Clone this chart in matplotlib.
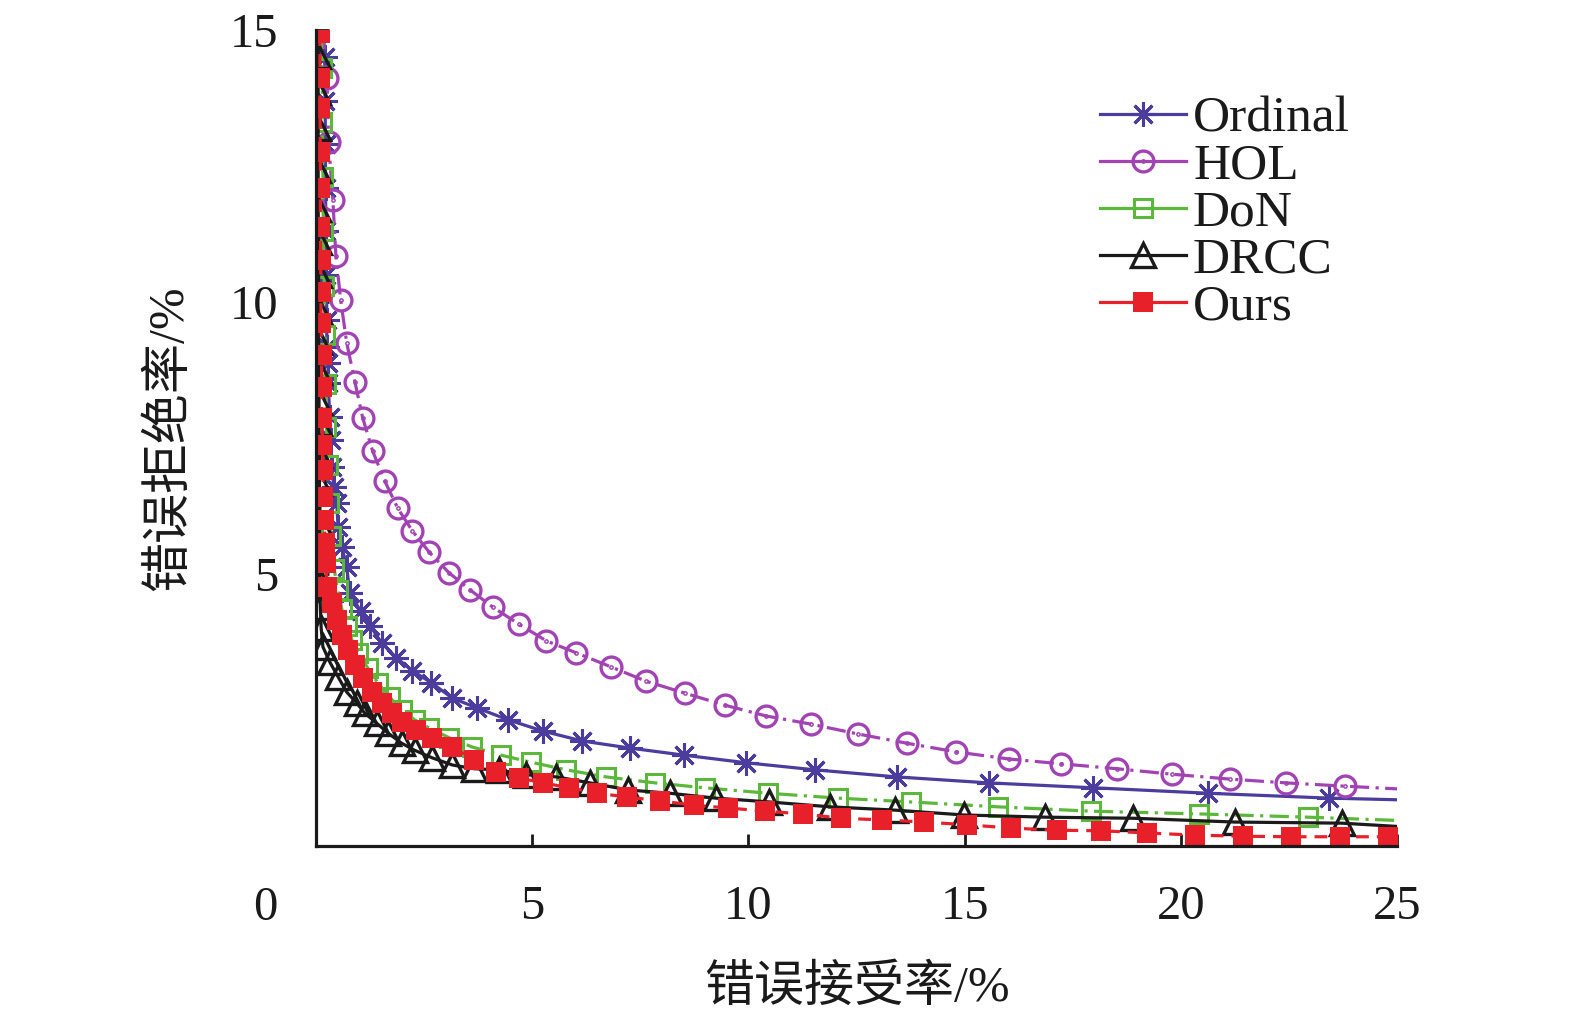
import matplotlib
matplotlib.use("Agg")
import matplotlib.pyplot as plt
from matplotlib.lines import Line2D
from matplotlib.path import Path

# ---------------- data ----------------
series_names = ["Ordinal", "HOL", "DoN", "DRCC", "Ours"]

ord_x = [0.17, 0.20, 0.21, 0.22, 0.22, 0.23, 0.24, 0.25, 0.25, 0.28, 0.28, 0.32, 0.34, 0.37, 0.41,
         0.48, 0.51, 0.60, 0.71, 0.78, 1.03, 1.26, 1.52, 1.86, 2.23, 2.67, 3.15, 3.72, 4.44, 5.26,
         6.16, 7.26, 8.51, 9.95, 11.54, 13.43, 15.56, 17.98, 20.62, 23.43, 25.0]
ord_y = [15.0, 14.5, 13.7, 12.9, 12.1, 11.3, 10.5, 9.67, 9.17, 8.88, 8.51, 7.89, 7.46, 6.97, 6.60,
         6.31, 5.86, 5.50, 5.13, 4.65, 4.32, 4.04, 3.73, 3.46, 3.22, 3.00, 2.72, 2.54, 2.32, 2.11,
         1.93, 1.80, 1.67, 1.53, 1.40, 1.27, 1.16, 1.07, 0.97, 0.88, 0.85]

hol_x = [0.15, 0.26, 0.29, 0.39, 0.46, 0.57, 0.71, 0.90, 1.08, 1.31, 1.59, 1.89, 2.23, 2.62, 3.08,
         3.56, 4.09, 4.69, 5.33, 6.02, 6.83, 7.63, 8.53, 9.45, 10.41, 11.45, 12.53, 13.66, 14.80,
         16.02, 17.24, 18.53, 19.79, 21.13, 22.44, 23.79, 25.0]
hol_y = [15.0, 14.12, 12.94, 11.88, 10.85, 10.04, 9.25, 8.53, 7.87, 7.26, 6.71, 6.21, 5.79, 5.40,
         5.02, 4.71, 4.39, 4.08, 3.77, 3.55, 3.29, 3.03, 2.81, 2.59, 2.39, 2.24, 2.06, 1.89, 1.73,
         1.60, 1.51, 1.42, 1.32, 1.23, 1.16, 1.10, 1.05]

don_x = [0.12, 0.14, 0.15, 0.16, 0.17, 0.19, 0.21, 0.22, 0.24, 0.27, 0.30, 0.35, 0.42, 0.50, 0.60,
         0.72, 0.83, 0.97, 1.20, 1.43, 1.70, 1.98, 2.28, 2.62, 3.08, 3.61, 4.28, 4.97, 5.79, 6.71,
         7.84, 8.99, 10.46, 12.07, 13.75, 15.77, 17.93, 20.41, 22.94, 25.0]
don_y = [15.0, 14.3, 13.3, 12.3, 11.3, 10.3, 9.4, 8.5, 7.7, 7.0, 6.3, 5.7, 5.1, 4.7, 4.35,
         4.05, 3.79, 3.55, 3.27, 3.00, 2.74, 2.50, 2.32, 2.17, 1.99, 1.82, 1.67, 1.54, 1.40, 1.27,
         1.16, 1.07, 0.97, 0.88, 0.81, 0.72, 0.64, 0.59, 0.53, 0.47]

drcc_x = [0.04, 0.05, 0.05, 0.05, 0.05, 0.05, 0.06, 0.06, 0.06, 0.06, 0.07, 0.07, 0.07, 0.08, 0.08,
          0.08, 0.09, 0.09, 0.10, 0.12, 0.16, 0.32, 0.51, 0.71, 0.94, 1.13, 1.40, 1.66, 1.98, 2.28,
          2.69, 3.15, 3.66, 4.23, 4.85, 5.56, 6.34, 7.22, 8.18, 9.24, 10.48, 11.89, 13.38, 14.99,
          16.87, 18.90, 21.26, 23.72, 25.0]
drcc_y = [15.0, 14.52, 13.86, 13.20, 12.43, 11.71, 11.10, 10.50, 9.83, 9.26, 8.71, 8.16, 7.78, 7.19,
          6.67, 5.94, 5.40, 4.85, 4.40, 4.00, 3.66, 3.38, 3.11, 2.83, 2.63, 2.44, 2.26, 2.08, 1.89,
          1.76, 1.62, 1.49, 1.42, 1.40, 1.31, 1.27, 1.16, 1.03, 0.97, 0.88, 0.81, 0.72, 0.66, 0.57,
          0.53, 0.51, 0.44, 0.42, 0.36]

ours_x = [0.09, 0.09, 0.09, 0.10, 0.10, 0.10, 0.11, 0.11, 0.12, 0.13, 0.13, 0.14, 0.15, 0.16, 0.17,
          0.19, 0.21, 0.23, 0.26, 0.37, 0.48, 0.60, 0.74, 0.90, 1.08, 1.29, 1.52, 1.75, 2.00, 2.32,
          2.69, 3.15, 3.66, 4.16, 4.69, 5.26, 5.86, 6.51, 7.20, 7.95, 8.74, 9.52, 10.39, 11.26,
          12.14, 13.10, 14.07, 15.06, 16.07, 17.13, 18.16, 19.22, 20.32, 21.43, 22.55, 23.68, 24.80, 25.0]
ours_y = [14.94, 14.12, 13.57, 12.76, 12.10, 11.38, 10.77, 10.18, 9.61, 9.03, 8.44, 7.87, 7.37, 6.91,
          6.42, 5.99, 5.57, 5.20, 4.76, 4.47, 4.15, 3.88, 3.60, 3.33, 3.09, 2.83, 2.63, 2.44, 2.28,
          2.13, 1.99, 1.82, 1.58, 1.36, 1.25, 1.16, 1.07, 0.97, 0.90, 0.83, 0.75, 0.70, 0.64, 0.59,
          0.51, 0.48, 0.44, 0.39, 0.33, 0.29, 0.28, 0.24, 0.20, 0.18, 0.17, 0.17, 0.17, 0.17]

x_ticks = [5, 10, 15, 20, 25]
y_ticks = [5, 10, 15]
x_label = "错误接受率/%"
y_label = "错误拒绝率/%"

# ---------------- style ----------------
C_ORD = "#4b3c9e"
C_HOL = "#a243b3"
C_DON = "#5cb83a"
C_DRCC = "#1a1a1a"
C_OURS = "#e8202a"
TXT = "#1a1a1a"
SERIF = "Liberation Serif"
CJK = [SERIF, "Noto Sans CJK SC"]
ASTER = (8, 2, 0)
CIRC_DOT = Path.make_compound_path(Path.unit_circle(), Path.circle((0, 0), 0.07))

lw = 2.3
st = {
    "Ordinal": dict(color=C_ORD, marker=ASTER, ms=18, mew=2.2),
    "HOL": dict(color=C_HOL, marker=CIRC_DOT, ms=15, mew=2.4, mfc="none"),
    "DoN": dict(color=C_DON, marker="s", ms=13, mew=2.2, mfc="none"),
    "DRCC": dict(color=C_DRCC, marker="^", ms=17, mew=2.4, mfc="none"),
    "Ours": dict(color=C_OURS, marker="s", ms=15, mew=0),
}

fig = plt.figure(figsize=(15.75, 10.21), dpi=100)
ax = fig.add_axes([316 / 1575, 1 - 846 / 1021, (1397 - 316) / 1575, (846 - 30) / 1021])

ax.plot(ord_x, ord_y, lw=lw, ls="-", markevery=slice(1, -1), **st["Ordinal"])
ax.plot(hol_x, hol_y, lw=lw, ls=(0, (6, 2, 1, 2)), markevery=slice(1, -1), **st["HOL"])
ax.plot(don_x, don_y, lw=lw, ls=(0, (6, 2, 1, 2)), markevery=slice(1, -1), **st["DoN"])
ax.plot(drcc_x, drcc_y, lw=lw, ls="-", markevery=slice(1, -1), **st["DRCC"])
ax.plot(ours_x, ours_y, lw=lw, ls=(0, (4, 2.5)), markevery=slice(0, -1), **st["Ours"])

ax.set_xlim(0, 25)
ax.set_ylim(0, 15)
ax.set_xticks(x_ticks)
ax.set_yticks(y_ticks)
for s in ["top", "right"]:
    ax.spines[s].set_visible(False)
for s in ["left", "bottom"]:
    ax.spines[s].set_linewidth(2.3)
    ax.spines[s].set_color(TXT)
ax.tick_params(axis="both", direction="in", length=9, width=2.0, color=TXT,
               labelsize=35, labelcolor=TXT)
ax.tick_params(axis="x", pad=28)
ax.tick_params(axis="y", pad=27)
for lab in ax.get_xticklabels() + ax.get_yticklabels():
    lab.set_family(SERIF)

ax.annotate("0", xy=(0, 0), xycoords="data", xytext=(-51, -62), textcoords="offset pixels",
            ha="center", va="center", fontsize=35, family=SERIF, color=TXT,
            annotation_clip=False)

ax.set_xlabel(x_label, fontsize=36, family=CJK, color=TXT)
ax.xaxis.set_label_coords(0.5, -(988 - 846) / 816)
ax.xaxis.label.set_va("center")
ax.set_ylabel(y_label, fontsize=36, family=CJK, color=TXT)
ax.yaxis.set_label_coords(-(316 - 170) / 1081, 0.5)
ax.yaxis.label.set_va("center")

# legend proxies (solid lines as in the reference legend)
handles = [Line2D([], [], lw=lw, ls="-", **st[n]) for n in series_names]
leg = ax.legend(handles, series_names,
                loc="upper left", bbox_to_anchor=(1100 / 1575, 1 - 96 / 1021),
                bbox_transform=fig.transFigure, frameon=False, borderpad=0, borderaxespad=0,
                prop={"family": SERIF, "size": 37}, handlelength=1.67,
                handletextpad=0.14, labelspacing=0.0)
for t in leg.get_texts():
    t.set_color(TXT)

fig.savefig("out.png", dpi=100)
